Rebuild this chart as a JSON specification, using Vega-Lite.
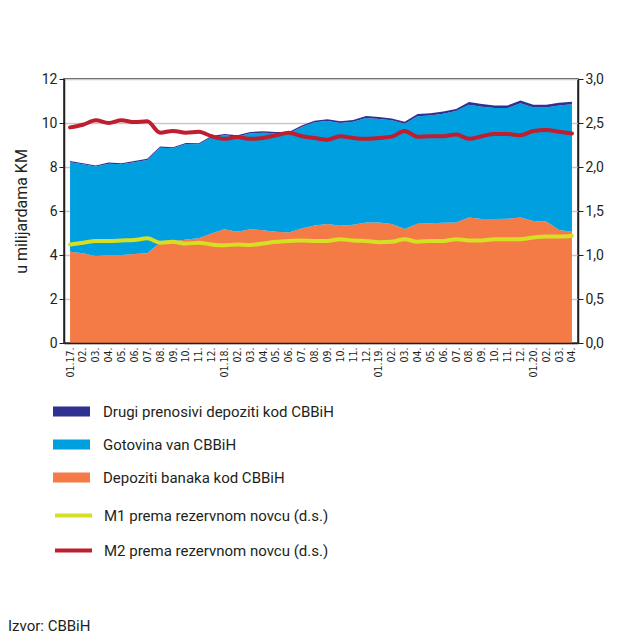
{
  "$schema": "https://vega.github.io/schema/vega-lite/v6.json",
  "autosize": "none",
  "width": 514,
  "height": 264,
  "padding": {"left": 64, "top": 79, "right": 39, "bottom": 297},
  "background": "white",
  "config": {
    "font": "Roboto",
    "view": {"stroke": "#231f20", "strokeWidth": 1.5},
    "axis": {"labelColor": "#231f20", "titleColor": "#231f20", "domainColor": "#231f20", "tickColor": "#231f20", "labelFont": "Roboto", "titleFont": "Roboto"},
    "legend": {"labelColor": "#231f20", "labelFont": "Roboto"},
    "title": {"color": "#231f20", "font": "Roboto"}
  },
  "title": {"text": "Izvor: CBBiH", "orient": "bottom", "anchor": "start", "frame": "group", "dx": -56, "offset": 60, "fontSize": 15, "fontWeight": "normal"},
  "data": {"values": [
    {"m": "2017-01", "k1": 4.15, "k2": 4.07, "k3": 0.05, "m1": 1.12, "m2": 2.45},
    {"m": "2017-02", "k1": 4.08, "k2": 4.04, "k3": 0.05, "m1": 1.14, "m2": 2.48},
    {"m": "2017-03", "k1": 3.95, "k2": 4.07, "k3": 0.05, "m1": 1.16, "m2": 2.53},
    {"m": "2017-04", "k1": 4.00, "k2": 4.15, "k3": 0.05, "m1": 1.16, "m2": 2.50},
    {"m": "2017-05", "k1": 4.00, "k2": 4.12, "k3": 0.05, "m1": 1.165, "m2": 2.53},
    {"m": "2017-06", "k1": 4.05, "k2": 4.17, "k3": 0.05, "m1": 1.17, "m2": 2.51},
    {"m": "2017-07", "k1": 4.08, "k2": 4.24, "k3": 0.05, "m1": 1.19, "m2": 2.52},
    {"m": "2017-08", "k1": 4.56, "k2": 4.32, "k3": 0.05, "m1": 1.14, "m2": 2.39},
    {"m": "2017-09", "k1": 4.60, "k2": 4.25, "k3": 0.05, "m1": 1.15, "m2": 2.41},
    {"m": "2017-10", "k1": 4.71, "k2": 4.33, "k3": 0.05, "m1": 1.13, "m2": 2.39},
    {"m": "2017-11", "k1": 4.76, "k2": 4.27, "k3": 0.05, "m1": 1.14, "m2": 2.40},
    {"m": "2017-12", "k1": 4.98, "k2": 4.37, "k3": 0.06, "m1": 1.12, "m2": 2.35},
    {"m": "2018-01", "k1": 5.17, "k2": 4.27, "k3": 0.06, "m1": 1.11, "m2": 2.32},
    {"m": "2018-02", "k1": 5.06, "k2": 4.32, "k3": 0.06, "m1": 1.12, "m2": 2.34},
    {"m": "2018-03", "k1": 5.17, "k2": 4.36, "k3": 0.06, "m1": 1.115, "m2": 2.32},
    {"m": "2018-04", "k1": 5.12, "k2": 4.44, "k3": 0.06, "m1": 1.13, "m2": 2.33},
    {"m": "2018-05", "k1": 5.06, "k2": 4.47, "k3": 0.06, "m1": 1.15, "m2": 2.36},
    {"m": "2018-06", "k1": 5.02, "k2": 4.51, "k3": 0.06, "m1": 1.16, "m2": 2.39},
    {"m": "2018-07", "k1": 5.21, "k2": 4.61, "k3": 0.07, "m1": 1.165, "m2": 2.35},
    {"m": "2018-08", "k1": 5.34, "k2": 4.69, "k3": 0.07, "m1": 1.16, "m2": 2.33},
    {"m": "2018-09", "k1": 5.41, "k2": 4.68, "k3": 0.08, "m1": 1.16, "m2": 2.31},
    {"m": "2018-10", "k1": 5.33, "k2": 4.67, "k3": 0.08, "m1": 1.18, "m2": 2.35},
    {"m": "2018-11", "k1": 5.38, "k2": 4.68, "k3": 0.08, "m1": 1.165, "m2": 2.33},
    {"m": "2018-12", "k1": 5.48, "k2": 4.75, "k3": 0.09, "m1": 1.16, "m2": 2.32},
    {"m": "2019-01", "k1": 5.48, "k2": 4.70, "k3": 0.09, "m1": 1.145, "m2": 2.33},
    {"m": "2019-02", "k1": 5.41, "k2": 4.71, "k3": 0.09, "m1": 1.15, "m2": 2.345},
    {"m": "2019-03", "k1": 5.18, "k2": 4.79, "k3": 0.09, "m1": 1.18, "m2": 2.41},
    {"m": "2019-04", "k1": 5.42, "k2": 4.89, "k3": 0.10, "m1": 1.15, "m2": 2.345},
    {"m": "2019-05", "k1": 5.44, "k2": 4.90, "k3": 0.10, "m1": 1.16, "m2": 2.35},
    {"m": "2019-06", "k1": 5.47, "k2": 4.95, "k3": 0.10, "m1": 1.16, "m2": 2.35},
    {"m": "2019-07", "k1": 5.48, "k2": 5.06, "k3": 0.10, "m1": 1.18, "m2": 2.37},
    {"m": "2019-08", "k1": 5.71, "k2": 5.12, "k3": 0.12, "m1": 1.165, "m2": 2.32},
    {"m": "2019-09", "k1": 5.64, "k2": 5.10, "k3": 0.12, "m1": 1.165, "m2": 2.35},
    {"m": "2019-10", "k1": 5.64, "k2": 5.04, "k3": 0.12, "m1": 1.18, "m2": 2.375},
    {"m": "2019-11", "k1": 5.65, "k2": 5.03, "k3": 0.12, "m1": 1.18, "m2": 2.375},
    {"m": "2019-12", "k1": 5.71, "k2": 5.19, "k3": 0.12, "m1": 1.18, "m2": 2.36},
    {"m": "2020-01", "k1": 5.55, "k2": 5.16, "k3": 0.12, "m1": 1.20, "m2": 2.41},
    {"m": "2020-02", "k1": 5.52, "k2": 5.19, "k3": 0.12, "m1": 1.21, "m2": 2.42},
    {"m": "2020-03", "k1": 5.14, "k2": 5.66, "k3": 0.12, "m1": 1.21, "m2": 2.40},
    {"m": "2020-04", "k1": 5.06, "k2": 5.79, "k3": 0.12, "m1": 1.22, "m2": 2.38}
  ]},
  "encoding": {
    "x": {"field": "m", "type": "ordinal", "scale": {"type": "point", "padding": 0.47},
      "axis": {"title": null, "labelAngle": -90, "labelFont": "DejaVu Sans Condensed", "labelFontSize": 10.5, "labelPadding": 4, "ticks": false, "domainWidth": 1.5, "zindex": 1,
        "labelExpr": "slice(datum.value,5,7) == '01' ? slice(datum.value,5,7) + '.' + slice(datum.value,2,4) + '.' : slice(datum.value,5,7) + '.'"}}
  },
  "layer": [
    {
      "transform": [{"fold": ["k1", "k2", "k3"], "as": ["s", "v"]}],
      "mark": {"type": "area", "interpolate": "linear"},
      "encoding": {
        "y": {"field": "v", "type": "quantitative", "stack": "zero", "scale": {"domain": [0, 12]},
          "axis": {"title": "u milijardama KM", "titleFontSize": 16, "titleFontWeight": "normal", "titlePadding": 12, "values": [0, 2, 4, 6, 8, 10, 12], "labelFontSize": 14, "tickSize": 5, "domainWidth": 1.5, "zindex": 0, "grid": true, "gridColor": "#c8c8c8", "gridWidth": 1.5}},
        "order": {"field": "s", "sort": "ascending"},
        "color": {"field": "s", "type": "nominal",
          "scale": {"domain": ["k3", "k2", "k1"], "range": ["#2e3192", "#009fdf", "#f47b46"]},
          "legend": {"title": null, "orient": "none", "legendX": -11, "legendY": 314, "direction": "vertical",
            "symbolType": "M-1,-0.27H1V0.27H-1Z", "symbolSize": 1369, "symbolStrokeWidth": 0, "labelFontSize": 15, "labelOffset": 13, "labelLimit": 400, "rowPadding": 6, "padding": 0,
            "labelExpr": "datum.value == 'k3' ? 'Drugi prenosivi depoziti kod CBBiH' : datum.value == 'k2' ? 'Gotovina van CBBiH' : 'Depoziti banaka kod CBBiH'"}}
      }
    },
    {
      "transform": [{"fold": ["m1", "m2"], "as": ["s2", "v2"]}],
      "mark": {"type": "line", "strokeWidth": 4, "interpolate": "monotone", "strokeCap": "round"},
      "encoding": {
        "y": {"field": "v2", "type": "quantitative", "scale": {"domain": [0, 3]},
          "axis": {"orient": "right", "title": null, "values": [0, 0.5, 1, 1.5, 2, 2.5, 3], "labelFontSize": 14, "tickSize": 5, "domainWidth": 1.5, "zindex": 1, "grid": false,
            "labelExpr": "replace(format(datum.value, '.1f'), '.', ',')"}},
        "stroke": {"field": "s2", "type": "nominal",
          "scale": {"domain": ["m1", "m2"], "range": ["#d6df23", "#be1e2d"]},
          "legend": {"title": null, "orient": "none", "legendX": -11, "legendY": 416, "direction": "vertical",
            "symbolType": "stroke", "symbolSize": 1369, "symbolStrokeWidth": 4, "labelFontSize": 15, "labelOffset": 10, "labelLimit": 400, "rowPadding": 6, "padding": 0,
            "labelExpr": "datum.value == 'm1' ? 'M1 prema rezervnom novcu (d.s.)' : 'M2 prema rezervnom novcu (d.s.)'"}}
      }
    }
  ],
  "resolve": {"scale": {"y": "independent"}}
}
